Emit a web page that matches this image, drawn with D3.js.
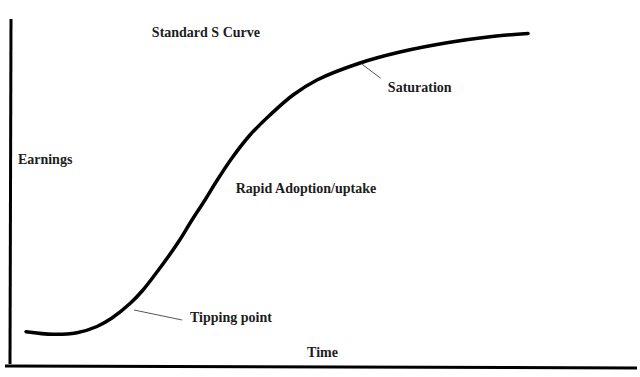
<!DOCTYPE html>
<html>
<head>
<meta charset="utf-8">
<script src="https://cdn.jsdelivr.net/npm/d3@7"></script>
<style>
  body { margin: 0; background: #fff; }
  text { font-family: "Liberation Serif", "Times New Roman", serif; font-weight: bold; fill: #1c1c1c; }
</style>
</head>
<body>
<div id="chart"></div>
<script>
// S curve (time 0-100, earnings 0-100)
var time     = [2.40, 6.71, 10.54, 13.74, 16.13, 19.01, 21.09, 23.32, 25.08, 26.84, 28.91, 30.99,
                32.75, 35.30, 38.18, 41.37, 45.05, 48.88, 55.75, 62.14, 70.13, 76.52, 82.59];
var earnings = [9.62, 8.87, 9.34, 11.13, 13.58, 17.77, 21.68, 26.88, 31.21, 35.84, 41.91, 47.69,
                52.89, 59.83, 66.47, 72.25, 78.03, 82.37, 87.28, 90.46, 93.27, 94.88, 95.81];

// annotation labels and their leader lines
var labels    = ["Standard S Curve", "Earnings", "Rapid Adoption/uptake", "Tipping point", "Saturation", "Time"];
var labelT    = [22.5, 1.1, 35.9, 28.6, 60.2, 47.3];
var labelE    = [96.3, 59.5, 51.0, 13.9, 80.4, 3.8];
var leaderFrom = [[19.65, 15.90], [56.02, 87.00]];
var leaderTo   = [[27.32, 13.01], [59.06, 82.86]];

var W = 640, H = 377;
var svg = d3.select("#chart").append("svg")
    .attr("width", W)
    .attr("height", H);

var x = d3.scaleLinear().domain([0, 100]).range([11, 637]);
var y = d3.scaleLinear().domain([0, 100]).range([365, 19]);

// axes, drawn as plain thick strokes
svg.append("line")
    .attr("x1", x(0)).attr("y1", y(100))
    .attr("x2", x(0) - 1).attr("y2", y(0) - 1)
    .style("stroke", "#000").style("stroke-width", 3);
svg.append("line")
    .attr("x1", 5).attr("y1", y(0) + 1)
    .attr("x2", x(100)).attr("y2", y(0) + 3)
    .style("stroke", "#000").style("stroke-width", 3);

var pts = time.map(function(t, i) { return [t, earnings[i]]; });
var line = d3.line()
    .x(function(d) { return x(d[0]); })
    .y(function(d) { return y(d[1]); })
    .curve(d3.curveCatmullRom);

svg.append("path")
    .datum(pts)
    .attr("d", line)
    .style("fill", "none")
    .style("stroke", "#000")
    .style("stroke-width", 3.5)
    .style("stroke-linecap", "round");

// leader lines
leaderFrom.forEach(function(f, i) {
    svg.append("line")
        .attr("x1", x(f[0])).attr("y1", y(f[1]))
        .attr("x2", x(leaderTo[i][0])).attr("y2", y(leaderTo[i][1]))
        .style("stroke", "#555").style("stroke-width", 1);
});

svg.selectAll(".lbl")
    .data(labels)
    .enter().append("text")
    .attr("class", "lbl")
    .attr("x", function(d, i) { return x(labelT[i]); })
    .attr("y", function(d, i) { return y(labelE[i]); })
    .attr("dy", "0.35em")
    .style("font-size", "14px")
    .text(function(d) { return d; });
</script>
</body>
</html>
